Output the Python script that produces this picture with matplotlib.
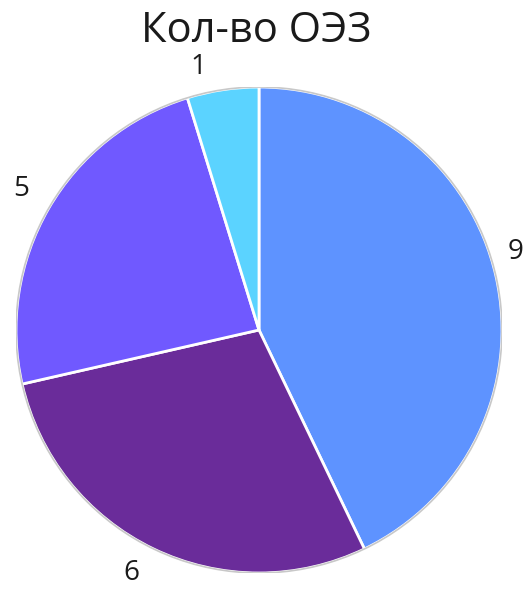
import numpy as np
import matplotlib.pyplot as plt
from matplotlib.patches import Circle

# data
labels = ["9", "6", "5", "1"]
values = [9, 6, 5, 1]
colors = ["#5E93FF", "#6A2C9A", "#7059FF", "#5BD3FF"]
title = "Кол-во ОЭЗ"

plt.rcParams['font.family'] = ['Open Sans', 'DejaVu Sans']

fig = plt.figure(figsize=(5.28, 5.89), dpi=100)
W, H = 528, 589
cx, cy, r = 259, 330, 243
ax = fig.add_axes([(cx - r) / W, (H - cy - r) / H, 2 * r / W, 2 * r / H])

wedges, texts = ax.pie(values, labels=labels, colors=colors, startangle=90,
                       counterclock=False, labeldistance=1.12,
                       wedgeprops=dict(edgecolor='white', linewidth=2),
                       textprops=dict(fontsize=20, color='#1a1a1a'))

# excel-like placement of the outside labels (angle, distance)
label_pos = [(16.8, 1.105), (-117.8, 1.13), (149.3, 1.14), (102.9, 1.11)]
for t, (a, d) in zip(texts, label_pos):
    a = np.deg2rad(a)
    t.set_position((d * np.cos(a), d * np.sin(a)))
    t.set_ha('center')
    t.set_va('center')

# thin grey rim around the pie
ax.add_patch(Circle((0, 0), 1.0, fill=False, edgecolor='#c8c8c8', linewidth=1.2))

ax.set_xlim(-1, 1)
ax.set_ylim(-1, 1)
ax.set_aspect('equal')
ax.axis('off')

fig.text(256 / W, 1 - 31 / H, title, ha='center', va='center',
         fontsize=30, color='#1a1a1a')

fig.savefig("out.png", dpi=100)
